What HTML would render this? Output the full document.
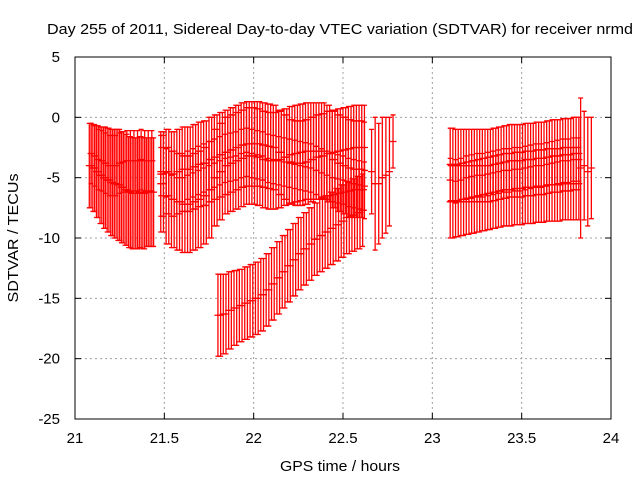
<!DOCTYPE html>
<html><head><meta charset="utf-8"><style>
body{margin:0;background:#fff}
svg{display:block;font-family:"Liberation Sans",sans-serif}
</style></head><body>
<svg id="chart" width="640" height="480" viewBox="0 0 640 480">
<rect width="640" height="480" fill="#fff"/>
<text x="340" y="34" font-size="15" text-anchor="middle" textLength="586" lengthAdjust="spacingAndGlyphs">Day 255 of 2011, Sidereal Day-to-day VTEC variation (SDTVAR) for receiver nrmd</text>
<g id="grid"></g>
<g id="ticks" font-size="15"></g>
<g id="marks" stroke="#f00" stroke-width="1.3" fill="none"></g>
<rect x="75" y="57" width="536" height="362" fill="none" stroke="#000"/>
<text x="340" y="471" font-size="15" text-anchor="middle" textLength="120" lengthAdjust="spacingAndGlyphs">GPS time / hours</text>
<text transform="translate(18,238) rotate(-90)" font-size="15" text-anchor="middle" textLength="129" lengthAdjust="spacingAndGlyphs">SDTVAR / TECUs</text>
</svg>
<script>
const xTicks=[21,21.5,22,22.5,23,23.5,24];
const xTickLabels=["21","21.5","22","22.5","23","23.5","24"];
const yTicks=[5,0,-5,-10,-15,-20,-25];
const yTickLabels=["5","0","-5","-10","-15","-20","-25"];

const tA=[21.08,21.10,21.12,21.14,21.16,21.18,21.20,21.22,21.24,21.26,21.28,21.30,21.32,21.34,21.36,21.38,21.40,21.42,21.44];
const tA2=[21.09,21.11,21.13,21.15,21.17,21.19,21.21,21.23,21.25,21.27,21.29,21.31,21.33,21.35,21.37,21.39,21.41,21.43];
const yA1=[-4.0,-4.2,-4.5,-4.8,-5.0,-5.2,-5.4,-5.5,-5.6,-5.8,-6.0,-6.2,-6.3,-6.3,-6.2,-6.3,-6.2,-6.2,-6.2];
const eA1=[3.5,3.6,3.8,4.0,4.2,4.3,4.4,4.5,4.6,4.6,4.6,4.6,4.6,4.6,4.6,4.6,4.5,4.5,4.5];
const yA2=[-3.0,-3.2,-3.5,-3.6,-3.8,-4.0,-4.0,-4.0,-3.8,-3.7,-3.6,-3.6,-3.6,-3.6,-3.5,-3.6,-3.6,-3.6,-3.6];
const eA2=[2.5,2.5,2.5,2.5,2.5,2.5,2.5,2.5,2.5,2.5,2.5,2.5,2.5,2.5,2.5,2.5,2.5,2.5,2.5];

const tB=[21.48,21.51,21.54,21.57,21.60,21.63,21.66,21.69,21.72,21.75,21.78,21.81,21.84,21.87,21.90,21.93,21.96,21.99,22.02,22.05,22.08,22.11,22.14,22.17,22.20,22.23,22.26,22.29,22.32,22.35,22.38,22.41,22.44,22.47,22.50,22.53,22.56,22.59,22.62];
const tB2=[21.495,21.525,21.555,21.585,21.615,21.645,21.675,21.705,21.735,21.765,21.795,21.825,21.855,21.885,21.915,21.945,21.975,22.005,22.035,22.065,22.095,22.125,22.155,22.185,22.215,22.245,22.275,22.305,22.335,22.365,22.395,22.425,22.455,22.485,22.515,22.545,22.575,22.605];
const yB1=[-4.7,-4.5,-4.7,-4.5,-4.3,-4.3,-4.1,-3.9,-3.8,-3.5,-3.3,-3.1,-2.9,-2.7,-2.5,-2.3,-2.2,-2.2,-2.2,-2.3,-2.4,-2.5,-2.9,-3.3,-3.7,-3.8,-3.8,-3.7,-3.5,-3.3,-3.2,-3.0,-2.9,-2.8,-2.7,-2.6,-2.5,-2.5,-2.5];
const eB1=[3.5,3.5,3.5,3.5,3.5,3.5,3.5,3.5,3.5,3.5,3.5,3.5,3.5,3.5,3.5,3.5,3.5,3.5,3.5,3.5,3.5,3.5,3.5,3.5,3.5,3.5,3.5,3.5,3.5,3.5,3.5,3.5,3.5,3.5,3.5,3.5,3.5,3.5,3.5];
const yB2=[-5.5,-6.5,-6.8,-7.0,-7.2,-7.2,-7.0,-6.8,-6.5,-6.0,-5.0,-4.5,-4.0,-3.8,-3.6,-3.4,-3.2,-3.2,-3.3,-3.5,-3.6,-3.6,-3.5,-3.3,-3.1,-3.0,-2.9,-2.8,-2.8,-2.8,-2.8,-3.0,-3.5,-3.8,-4.0,-4.2,-4.3,-4.3,-4.4];
const eB2=[4,4,4,4,4,4,4,4,4,4,4,4,4,4,4,4,4,4,4,4,4,4,4,4,4,4,4,4,4,4,4,4,4,4,4,4,4,4,4];
const yB3=[-4.5,-4.6,-4.8,-5.0,-5.0,-4.8,-4.6,-4.4,-4.2,-4.0,-3.8,-3.6,-3.4,-3.3,-3.2,-3.0,-2.9,-3.0,-3.1,-3.2,-3.4,-3.5,-3.6,-3.7,-3.8,-3.9,-4.0,-4.1,-4.2,-4.4,-4.6,-4.8,-5.0,-5.1,-5.2,-5.4,-5.5,-5.6,-5.7];
const eB3=[2,2,2,2,2,2,2,2,2,2,2,2,2,2,2,2,2,2,2,2,2,2,2,2,2,2,2,2,2,2,2,2,2,2,2,2,2,2,2];

const tC=[21.80,21.83,21.86,21.89,21.92,21.95,21.98,22.01,22.04,22.07,22.10,22.13,22.16,22.19,22.22,22.25,22.28,22.31,22.34,22.37,22.40,22.43,22.46,22.49,22.52,22.55,22.58,22.61];
const tC2=[21.815,21.845,21.875,21.905,21.935,21.965,21.995,22.025,22.055,22.085,22.115,22.145,22.175,22.205,22.235,22.265,22.295,22.325,22.355,22.385,22.415,22.445,22.475,22.505,22.535,22.565,22.595];
const yC=[-16.4,-16.3,-16.0,-15.8,-15.6,-15.4,-15.2,-15.0,-14.7,-14.3,-13.8,-13.3,-12.8,-12.3,-11.8,-11.3,-10.9,-10.5,-10.1,-9.8,-9.5,-9.2,-8.9,-8.6,-8.3,-8.1,-7.9,-7.7];
const eC=[3.4,3.3,3.2,3.1,3.0,3.0,3.0,3.0,3.0,3.0,3.0,3.0,3.0,3.0,3.0,3.0,3.0,3.0,3.0,3.0,3.0,3.0,3.0,3.0,3.0,3.0,3.0,3.0];

const tD=[22.66,22.68,22.70,22.72,22.74,22.76,22.78];
const yD=[-4.5,-5.5,-5.5,-5.0,-4.8,-4.5,-2.0];
const eD=[3.5,5.5,5.0,5.0,4.8,4.5,2.2];

const tE=[23.10,23.13,23.16,23.19,23.22,23.25,23.28,23.31,23.34,23.37,23.40,23.43,23.46,23.49,23.52,23.55,23.58,23.61,23.64,23.67,23.70,23.73,23.76,23.79,23.82];
const tE2=[23.115,23.145,23.175,23.205,23.235,23.265,23.295,23.325,23.355,23.385,23.415,23.445,23.475,23.505,23.535,23.565,23.595,23.625,23.655,23.685,23.715,23.745,23.775,23.805];
const yE1=[-3.9,-4.0,-4.0,-4.0,-4.0,-4.0,-4.0,-4.0,-3.9,-3.8,-3.7,-3.6,-3.6,-3.6,-3.5,-3.5,-3.4,-3.4,-3.3,-3.2,-3.2,-3.1,-3.1,-3.0,-3.0];
const eE1=[3,3,3,3,3,3,3,3,3,3,3,3,3,3,3,3,3,3,3,3,3,3,3,3,3];
const yE2=[-7.0,-6.9,-6.8,-6.7,-6.6,-6.5,-6.4,-6.3,-6.2,-6.1,-6.0,-6.0,-5.9,-5.9,-5.8,-5.8,-5.7,-5.7,-5.6,-5.6,-5.6,-5.5,-5.5,-5.5,-5.5];
const eE2=[3,3,3,3,3,3,3,3,3,3,3,3,3,3,3,3,3,3,3,3,3,3,3,3,3];
const yE3=[-5.2,-5.3,-5.2,-5.0,-4.9,-4.8,-4.8,-4.7,-4.6,-4.5,-4.4,-4.4,-4.3,-4.3,-4.2,-4.1,-4.0,-4.0,-3.9,-3.8,-3.7,-3.6,-3.6,-3.5,-3.5];
const eE3=[1.8,1.8,1.8,1.8,1.8,1.8,1.8,1.8,1.8,1.8,1.8,1.8,1.8,1.8,1.8,1.8,1.8,1.8,1.8,1.8,1.8,1.8,1.8,1.8,1.8];

const tF=[23.83,23.85,23.87,23.89];
const yF=[-4.2,-4.0,-4.5,-4.2];
const eF=[5.8,4.5,4.5,4.2];

const X0=75,X1=611,Y0=57,Y1=419;
function sx(v){return X0+(v-21)/3*(X1-X0);}
function sy(v){return Y0+(5-v)/30*(Y1-Y0);}
const NS="http://www.w3.org/2000/svg";
function mk(tag,attrs,parent){const e=document.createElementNS(NS,tag);for(const k in attrs)e.setAttribute(k,attrs[k]);parent.appendChild(e);return e;}

const grid=document.getElementById('grid'),ticks=document.getElementById('ticks');
xTicks.forEach((v,i)=>{
  const x=sx(v);
  if(i>0&&i<xTicks.length-1){const l=mk('line',{x1:x,x2:x,y1:Y0,y2:Y1,stroke:'#a0a0a0','stroke-dasharray':'2,3'},grid);
  
  }
  mk('line',{x1:x,x2:x,y1:Y1,y2:Y1-6,stroke:'#000'},grid);
  mk('line',{x1:x,x2:x,y1:Y0,y2:Y0+6,stroke:'#000'},grid);
  const t=mk('text',{x:x,y:443,'text-anchor':'middle'},ticks);t.textContent=xTickLabels[i];
  
  
});
yTicks.forEach((v,i)=>{
  const y=sy(v);
  if(i>0&&i<yTicks.length-1){const l=mk('line',{x1:X0,x2:X1,y1:y,y2:y,stroke:'#a0a0a0','stroke-dasharray':'2,3'},grid);
  
  }
  mk('line',{x1:X0,x2:X0+6,y1:y,y2:y,stroke:'#000'},grid);
  mk('line',{x1:X1,x2:X1-6,y1:y,y2:y,stroke:'#000'},grid);
  const t=mk('text',{x:60,y:y+5,'text-anchor':'end'},ticks);t.textContent=yTickLabels[i];
  
  
});

const marks=document.getElementById('marks');
function series(ts,ys,es,name){
  const g=mk('g',{},marks);
  
  
  let d='';
  ts.forEach((t,i)=>{
    const x=sx(t),y=sy(ys[i]),yt=sy(ys[i]+es[i]),yb=sy(ys[i]-es[i]);
    d+=`M${x},${yt}V${yb}M${x-2.5},${yt}h5M${x-2.5},${yb}h5M${x-3.5},${y}h7M${x},${y-3.5}v7`;
  });
  const p=mk('path',{d:d},g);
  
  
}
series(tA,yA1,eA1,'series-a1');
series(tA2,yA2,eA2,'series-a2');
series(tA2,yA1,eA1,'series-a3');
series(tB,yB1,eB1,'series-b1');
series(tB2,yB2,eB2,'series-b2');
series(tB,yB2,eB2,'series-b4');
series(tB2,yB1,eB1,'series-b5');
series(tB,yB3,eB3,'series-b3');
series(tC,yC,eC,'series-c');
series(tC2,yC,eC,'series-c2');
series(tD,yD,eD,'series-d');
series(tE,yE1,eE1,'series-e1');
series(tE2,yE2,eE2,'series-e2');
series(tE,yE2,eE2,'series-e4');
series(tE2,yE1,eE1,'series-e5');
series(tE,yE3,eE3,'series-e3');
series(tF,yF,eF,'series-f');
</script>
</body></html>
